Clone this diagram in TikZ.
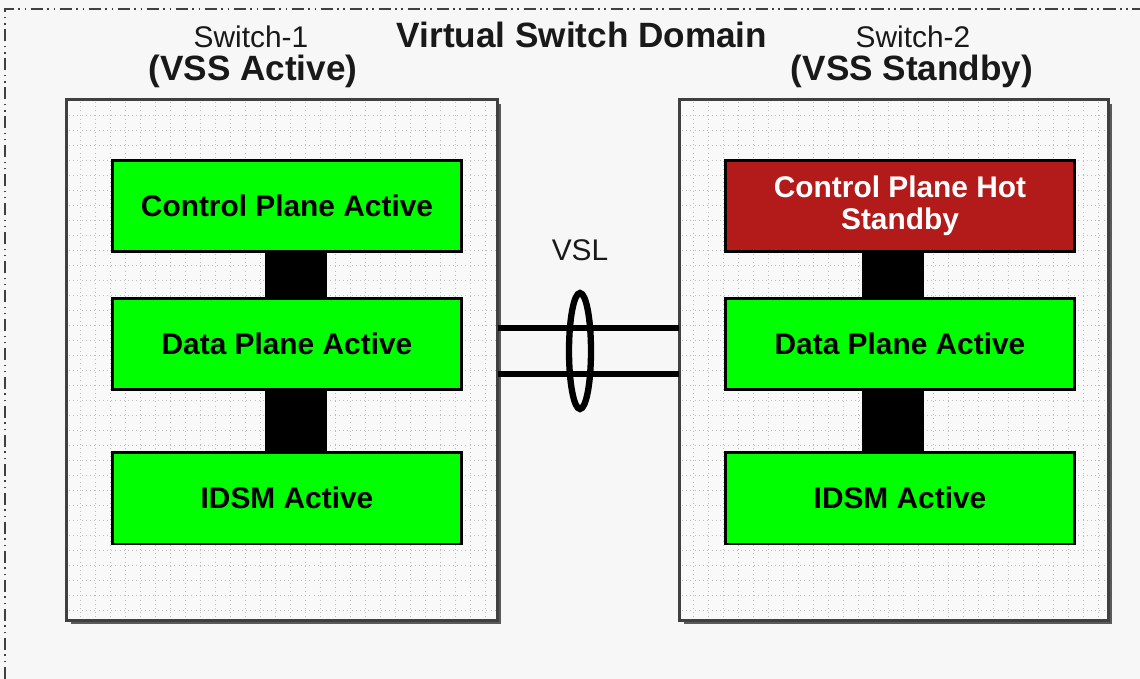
\documentclass[tikz,border=0pt]{standalone}
\usepackage{fontspec}
\setmainfont{Liberation Sans}
\usetikzlibrary{positioning}
\definecolor{fondo}{HTML}{F7F7F7}
\definecolor{caja}{HTML}{F9F9F9}
\definecolor{rejilla}{HTML}{BDBDBD}
\definecolor{verde}{HTML}{00FF00}
\definecolor{rojo}{HTML}{B31A1A}
\definecolor{sombra}{HTML}{5A5A5A}
\begin{document}
\begin{tikzpicture}[x=0.02cm,y=-0.02cm,
        switchbox/.style={draw=black!75,line width=1.1pt,fill=caja,minimum width=8.6cm,minimum height=10.4cm,inner sep=0pt},
        plano/.style={draw,line width=1.7pt,fill=verde,minimum width=7cm,minimum height=1.84cm,inner sep=0pt,font=\fontsize{17}{19}\selectfont\bfseries},
        barra/.style={line width=1.24cm},
        enlace/.style={line width=3.6pt},
        etiqueta/.style={font=\fontsize{17}{19}\selectfont,text=black!90},
        titulo/.style={font=\fontsize{20}{22}\selectfont\bfseries,text=black!90}]
        \useasboundingbox (0,0) rectangle (1140,679);
        \fill[fondo] (0,0) rectangle (1140,679);
        % borde del dominio
        \draw[black!75,line width=0.8pt,dash pattern=on 7pt off 2.5pt on 1pt off 2.5pt on 1pt off 2.5pt] (5,679) -- (5,9) -- (1140,9);
        % sombras
        \fill[sombra] (71,104) rectangle (501,624);
        \fill[sombra] (684,104) rectangle (1112,624);
        % cajas de los switches
        \node[switchbox] (sw1) at (282,360) {};
        \node[switchbox,minimum width=8.56cm] (sw2) at (894,360) {};
        % rejilla
        \foreach \x in {80,95,...,490}
        \draw[rejilla,dotted] (\x,102) -- (\x,618);
        \foreach \y in {115,130,...,610}
        \draw[rejilla,dotted] (69,\y) -- (495,\y);
        \foreach \x in {693,708,...,1100}
        \draw[rejilla,dotted] (\x,102) -- (\x,618);
        \foreach \y in {115,130,...,610}
        \draw[rejilla,dotted] (682,\y) -- (1106,\y);
        \draw[black!75,line width=1.1pt] (sw1.north west) rectangle (sw1.south east);
        \draw[black!75,line width=1.1pt] (sw2.north west) rectangle (sw2.south east);
        % titulos
        \node[titulo] (dominio) at (582,35) {Virtual Switch Domain};
        \node[etiqueta] (nom1) at (251,37) {Switch-1};
        \node[titulo] (rol1) at (253,71) {(VSS Active)};
        \node[etiqueta] (nom2) at (913,37) {Switch-2};
        \node[titulo] (rol2) at (912,71) {(VSS Standby)};
        % switch 1
        \node[plano] (cp1) at (287,206) {Control Plane Active};
        \node[plano] (dp1) at (287,344) {Data Plane Active};
        \node[plano] (ids1) at (287,498) {IDSM Active};
        \draw[barra] ([xshift=0.18cm]cp1.south) -- ([xshift=0.18cm]dp1.north);
        \draw[barra] ([xshift=0.18cm]dp1.south) -- ([xshift=0.18cm]ids1.north);
        % switch 2
        \node[plano,fill=rojo,text=white,align=center,font=\fontsize{17}{18.5}\selectfont\bfseries] (cp2) at (900,206) {Control Plane Hot\\Standby};
        \node[plano] (dp2) at (900,344) {Data Plane Active};
        \node[plano] (ids2) at (900,498) {IDSM Active};
        \draw[barra] ([xshift=-0.14cm]cp2.south) -- ([xshift=-0.14cm]dp2.north);
        \draw[barra] ([xshift=-0.14cm]dp2.south) -- ([xshift=-0.14cm]ids2.north);
        % enlaces VSL
        \draw[enlace] (sw1.east |- 0,328) -- (sw2.west |- 0,328);
        \draw[enlace] (sw1.east |- 0,374) -- (sw2.west |- 0,374);
        \draw[enlace] (580,351) ellipse [x radius=0.22cm, y radius=1.16cm];
        \node[etiqueta] (vsl) at (580,250) {VSL};
\end{tikzpicture}
\end{document}
